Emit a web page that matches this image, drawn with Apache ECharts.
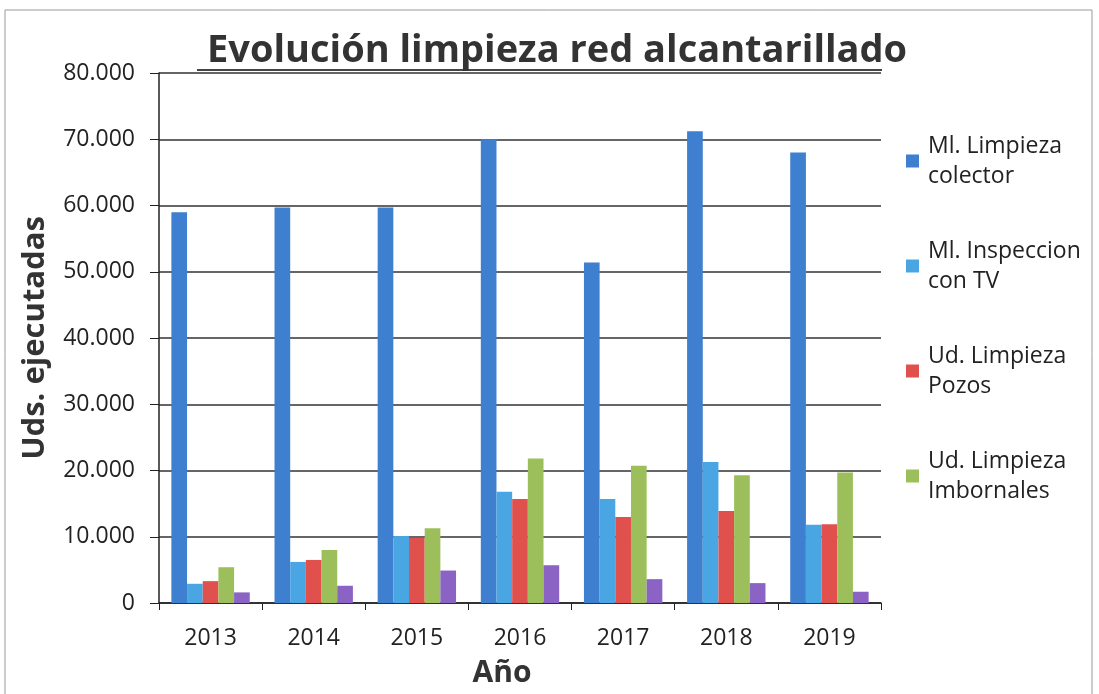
<!DOCTYPE html>
<html>
<head>
<meta charset="utf-8">
<script src="https://cdn.jsdelivr.net/npm/echarts@6/dist/echarts.min.js"></script>
<style>html,body{margin:0;padding:0;background:#fff;}#c{width:1099px;height:694px;}</style>
</head>
<body>
<div id="c"></div>
<script>
const years = ['2013','2014','2015','2016','2017','2018','2019'];
const seriesNames = ['Ml. Limpieza colector','Ml. Inspeccion con TV','Ud. Limpieza Pozos','Ud. Limpieza Imbornales','Otros'];
const legendLines = {
  'Ml. Limpieza colector': 'Ml. Limpieza\ncolector',
  'Ml. Inspeccion con TV': 'Ml. Inspeccion\ncon TV',
  'Ud. Limpieza Pozos': 'Ud. Limpieza\nPozos',
  'Ud. Limpieza Imbornales': 'Ud. Limpieza\nImbornales'
};
const limpiezaColector = [59000, 59700, 59700, 70000, 51400, 71200, 68000];
const inspeccionTV = [2900, 6200, 10100, 16800, 15700, 21300, 11800];
const limpiezaPozos = [3300, 6500, 9800, 15700, 13000, 13900, 11900];
const limpiezaImbornales = [5400, 8000, 11300, 21800, 20700, 19300, 19700];
const otros = [1600, 2600, 4900, 5700, 3600, 3000, 1700];
const seriesValues = [limpiezaColector, inspeccionTV, limpiezaPozos, limpiezaImbornales, otros];
const colors = ['#3f7fcf', '#4aa6e2', '#e0514e', '#9cbf5c', '#8a63c4'];

const FONT = 'Open Sans';
const chart = echarts.init(document.getElementById('c'));
const fmt = v => v === 0 ? '0' : (v / 1000).toFixed(0) + '.000';
chart.setOption({
  animation: false,
  backgroundColor: '#ffffff',
  color: colors,
  textStyle: { fontFamily: FONT },
  title: {
    text: 'Evolución limpieza red alcantarillado',
    left: 202, top: 27,
    textStyle: { fontFamily: FONT, fontWeight: 'bold', fontSize: 38, color: '#333' }
  },
  graphic: [
    { type: 'line', shape: { x1: 197, y1: 70, x2: 882, y2: 70 }, style: { stroke: '#444', lineWidth: 2 } },
    { type: 'rect', shape: { x: 5, y: 10, width: 1087, height: 690 }, style: { fill: 'none', stroke: '#999', lineWidth: 1 } }
  ],
  legend: {
    data: seriesNames.slice(0, 4),
    orient: 'vertical',
    left: 906, top: 116,
    padding: 0,
    itemGap: 15,
    itemWidth: 13, itemHeight: 13,
    icon: 'rect',
    formatter: n => legendLines[n],
    textStyle: { fontFamily: FONT, fontSize: 23, color: '#222', lineHeight: 30, padding: [30, 0, 0, 4] }
  },
  grid: { left: 159, right: 218, top: 73, bottom: 91, containLabel: false },
  xAxis: {
    type: 'category', data: years,
    name: 'Año', nameLocation: 'middle', nameGap: 55,
    nameTextStyle: { fontFamily: FONT, fontWeight: 'bold', fontSize: 30, color: '#333', padding: [0, 36, 0, 0] },
    axisLine: { lineStyle: { color: '#222', width: 1.5 } },
    axisTick: { show: true, length: 7, lineStyle: { color: '#222' } },
    axisLabel: { fontSize: 23, color: '#222', margin: 24 }
  },
  yAxis: {
    type: 'value', min: 0, max: 80000, interval: 10000,
    name: 'Uds. ejecutadas', nameLocation: 'middle', nameGap: 108,
    nameTextStyle: { fontFamily: FONT, fontWeight: 'bold', fontSize: 31, color: '#333' },
    axisLine: { show: true, lineStyle: { color: '#222', width: 1.5 } },
    axisTick: { show: true, length: 9, lineStyle: { color: '#222' } },
    splitLine: { lineStyle: { color: '#333', width: 1.5 } },
    axisLabel: { fontSize: 23, color: '#222', margin: 24, formatter: fmt }
  },
  series: seriesNames.map((n, i) => ({
    name: n, type: 'bar', data: seriesValues[i],
    barGap: '0%', barCategoryGap: '24%',
    itemStyle: { color: colors[i] }
  }))
});
</script>
</body>
</html>
